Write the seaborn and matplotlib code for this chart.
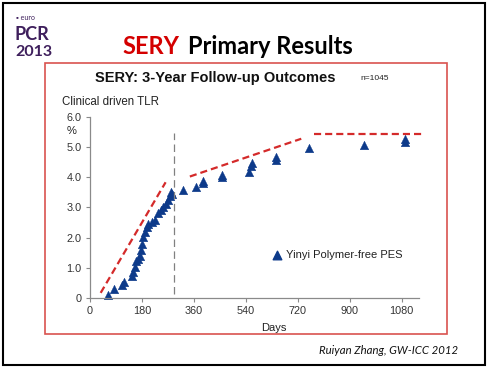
import matplotlib
matplotlib.use("Agg")
import matplotlib.pyplot as plt
import seaborn as sns
import pandas as pd
from matplotlib.patches import Rectangle

# Cumulative clinically driven TLR (%)
days = [61, 84, 112, 119, 144, 150, 156, 161, 167, 173, 176, 181, 184, 190,
        196, 202, 214, 225, 234, 245, 254, 262, 269, 277, 280, 283, 321, 367,
        392, 392, 456, 456, 550, 557, 562, 646, 646, 759, 948, 1090, 1090]
tlr = [0.10, 0.29, 0.43, 0.54, 0.72, 0.87, 1.03, 1.23, 1.30, 1.38, 1.58, 1.80,
       2.02, 2.18, 2.35, 2.46, 2.52, 2.59, 2.81, 2.90, 3.00, 3.11, 3.25, 3.39,
       3.50, 3.44, 3.58, 3.68, 3.80, 3.88, 4.00, 4.07, 4.18, 4.37, 4.48, 4.56,
       4.66, 4.95, 5.06, 5.17, 5.26]

# red dashed trend segments
trend1_x, trend1_y = [37, 262], [0.17, 3.83]
trend2_x, trend2_y = [346, 732], [4.02, 5.27]
trend3_x, trend3_y = [775, 1160], [5.43, 5.43]
split_day = 292

xticks = [0, 180, 360, 540, 720, 900, 1080]
yticks = [0, 1, 2, 3, 4, 5, 6]
ylabels = ["0", "1.0", "2.0", "3.0", "4.0", "5.0", "6.0"]

df = pd.DataFrame({"Days": days, "TLR": tlr})

sns.set_style("white")
plt.rcParams["font.family"] = ["Liberation Sans", "DejaVu Sans"]

W, H = 487, 368
fig = plt.figure(figsize=(W / 100, H / 100), dpi=100)

def fx(px):
    return px / W

def fy(py):
    return 1 - py / H

ax = fig.add_axes([fx(90), fy(298), fx(419) - fx(90), fy(116.7) - fy(298)])

navy = "#0d3a8a"
sns.scatterplot(data=df, x="Days", y="TLR", marker="^", s=38, color=navy,
                edgecolor=navy, linewidth=0.3, ax=ax, legend=False, clip_on=False)

red = "#d42a2a"
for xs, ys in [(trend1_x, trend1_y), (trend2_x, trend2_y), (trend3_x, trend3_y)]:
    ax.plot(xs, ys, color=red, lw=1.6, ls=(0, (3.2, 1.8)), clip_on=False)

ax.plot([split_day, split_day], [0.13, 5.47], color="#808080", lw=0.9,
        ls=(0, (6, 3.5)))

ax.set_xlim(0, 1140)
ax.set_ylim(0, 6)
ax.set_xticks(xticks)
ax.set_yticks(yticks)
ax.set_yticklabels(ylabels)
ax.set_xlabel("")
ax.set_ylabel("")
for side in ["top", "right"]:
    ax.spines[side].set_visible(False)
for side in ["left", "bottom"]:
    ax.spines[side].set_color("#8a8a8a")
    ax.spines[side].set_linewidth(0.9)
ax.tick_params(axis="both", length=3, width=0.8, color="#8a8a8a",
               labelsize=7.8, labelcolor="#333333", pad=3, direction="out")
ax.tick_params(axis="both", which="both", bottom=True, left=True)

# legend entry
ax.scatter([648], [1.42], marker="^", s=38, color=navy)
ax.text(680, 1.42, "Yinyi Polymer-free PES", fontsize=8, color="#222222",
        va="center", ha="left")

# slide decorations
fig.patches.append(Rectangle((fx(3), fy(365)), fx(485) - fx(3), fy(3) - fy(365),
                             transform=fig.transFigure, fill=False,
                             edgecolor="black", lw=1.5))
fig.patches.append(Rectangle((fx(45), fy(334)), fx(447) - fx(45), fy(63.3) - fy(334),
                             transform=fig.transFigure, fill=False,
                             edgecolor="#d9534f", lw=1.2))

purple = "#3e1f5c"
fig.text(fx(16), fy(17), "\u25aa euro", fontsize=5, color=purple, va="center",
         family=["Lato", "DejaVu Sans"])
fig.text(fx(15), fy(40), "PCR", fontsize=13, color=purple, va="baseline",
         fontweight="bold", family=["Lato", "DejaVu Sans"])
fig.text(fx(15.5), fy(56), "2013", fontsize=11.5, color=purple, va="baseline",
         fontweight="bold", family=["Lato", "DejaVu Sans"])

fig.text(fx(179), fy(46), "SERY", fontsize=17, color="#d40000", ha="right",
         va="center", fontweight="bold", family=["Lato", "DejaVu Sans"])
fig.text(fx(188), fy(46), "Primary Results", fontsize=17, color="black",
         ha="left", va="center", fontweight="bold", family=["Lato", "DejaVu Sans"])

fig.text(fx(215.5), fy(78), "SERY: 3-Year Follow-up Outcomes", fontsize=10.5,
         fontweight="bold", ha="center", va="center", color="#111111")
fig.text(fx(360), fy(78), "n=1045", fontsize=6, ha="left", va="center",
         color="#222222")
fig.text(fx(61.7), fy(101.7), "Clinical driven TLR", fontsize=8.3, ha="left",
         va="center", color="#222222")
fig.text(fx(71.7), fy(131), "%", fontsize=8, ha="center", va="center",
         color="#222222")
fig.text(fx(274), fy(328), "Days", fontsize=8, ha="center", va="center",
         color="#222222")
fig.text(fx(458), fy(350), "Ruiyan Zhang, GW-ICC 2012", fontsize=8.2,
         style="italic", ha="right", va="center", color="#111111",
         family=["Lato", "DejaVu Sans"])

fig.savefig("out.png", dpi=100)
